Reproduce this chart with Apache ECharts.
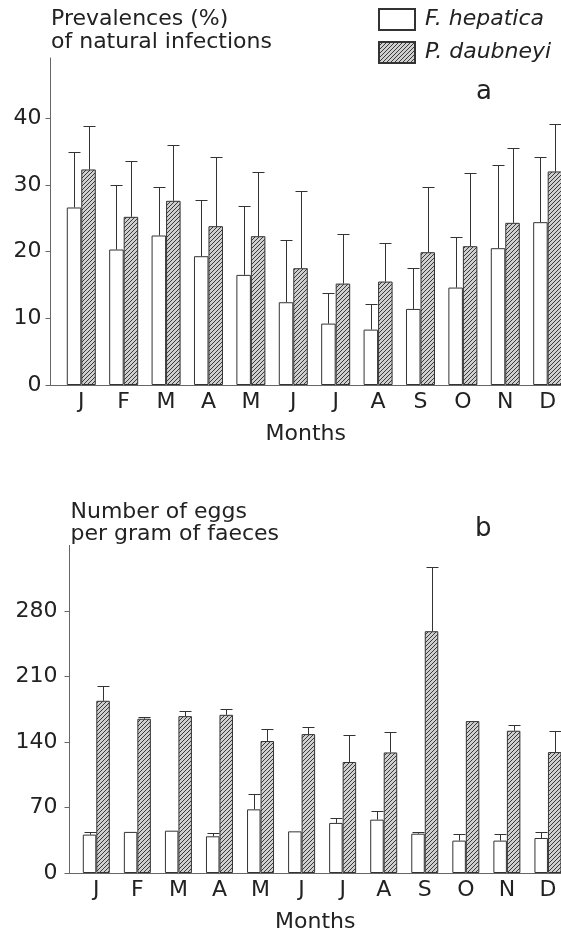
<!DOCTYPE html>
<html><head><meta charset="utf-8">
<script src="https://cdn.jsdelivr.net/npm/echarts@6/dist/echarts.min.js"></script>
<style>html,body{margin:0;padding:0;background:#fff}#c{width:561px;height:934px}</style>
</head><body><div id="c"></div>
<script>
// ---- data ----
const months = ['J','F','M','A','M','J','J','A','S','O','N','D'];
const prevTicks = [0, 10, 20, 30, 40];
const eggTicks = [0, 70, 140, 210, 280];

// (a) Prevalences (%) of natural infections
const prevHepatica   = [26.6, 20.3, 22.4, 19.3, 16.5, 12.4, 9.2, 8.3, 11.4, 14.6, 20.5, 24.4];
const prevHepaticaSD = [8.3, 9.6, 7.3, 8.4, 10.3, 9.4, 4.6, 3.8, 6.2, 7.6, 12.5, 9.7];
const prevDaubneyi   = [32.3, 25.2, 27.6, 23.8, 22.3, 17.5, 15.2, 15.5, 19.9, 20.8, 24.3, 32.0];
const prevDaubneyiSD = [6.5, 8.3, 8.4, 10.3, 9.6, 11.6, 7.4, 5.8, 9.7, 10.9, 11.2, 7.1];

// (b) Number of eggs per gram of faeces
const eggsHepatica   = [41, 43.9, 45.2, 39.2, 68, 44.5, 53.5, 57, 42, 34.6, 34.6, 37.4];
const eggsHepaticaSD = [2.9, 0, 0, 3.6, 16.4, 0, 5.3, 8.9, 1.8, 7.4, 7.4, 6.4];
const eggsDaubneyi   = [184, 164.8, 167.6, 169, 141, 148.4, 118.6, 128.8, 258.3, 162.3, 152, 129.2];
const eggsDaubneyiSD = [16.3, 1.5, 5.7, 6.1, 12.8, 7.8, 29.1, 21.8, 69, 0, 5.6, 22.8];

// ---- styles ----
const FONT = 'DejaVu Sans';
const INK = '#222';
const AXIS = '#666';

function hatchCanvas() {
  const c = document.createElement('canvas');
  c.width = 4; c.height = 4;
  const g = c.getContext('2d');
  g.fillStyle = '#cfcfcf'; g.fillRect(0, 0, 4, 4);
  g.strokeStyle = '#3a3a3a'; g.lineWidth = 1;
  g.beginPath();
  g.moveTo(0, 4); g.lineTo(4, 0);
  g.moveTo(-1, 1); g.lineTo(1, -1);
  g.moveTo(3, 5); g.lineTo(5, 3);
  g.stroke();
  return c;
}
const hatch = { image: hatchCanvas(), repeat: 'repeat' };

const whiteStyle = { color: '#fff', borderColor: '#333', borderWidth: 1 };
const hatchStyle = { color: hatch, borderColor: '#333', borderWidth: 1 };

function pairs(arr) { return arr.map((v, i) => [i, v]); }

function barSeries(name, xi, means, style, barW) {
  return {
    type: 'bar', name: name, xAxisIndex: xi, yAxisIndex: xi,
    data: pairs(means), barWidth: barW, barGap: '0%',
    itemStyle: style, silent: true, z: 2
  };
}

function errSeries(id, xi, means, sds, side, barW, capW) {
  return {
    type: 'custom', name: id, xAxisIndex: xi, yAxisIndex: xi, silent: true, z: 3,
    data: means.map((m, i) => [i, m, sds[i]]),
    encode: { x: 0, y: 1 },
    renderItem: function (params, api) {
      const i = api.value(0), m = api.value(1), s = api.value(2);
      if (!(s > 0)) return null;
      const p0 = api.coord([i, m]);
      const p1 = api.coord([i, m + s]);
      const x = Math.round(p0[0] + side * barW / 2) + 0.5;
      const yt = Math.round(p1[1]) + 0.5;
      return {
        type: 'group', children: [
          { type: 'line', shape: { x1: x, y1: p0[1], x2: x, y2: yt }, style: { stroke: '#333', lineWidth: 1 } },
          { type: 'line', shape: { x1: x - capW / 2, y1: yt, x2: x + capW / 2, y2: yt }, style: { stroke: '#333', lineWidth: 1 } }
        ]
      };
    }
  };
}

function xAxisCfg(gi, min, max) {
  return {
    type: 'value', gridIndex: gi, min: min, max: max,
    name: 'Months', nameLocation: 'middle', nameGap: 38,
    nameTextStyle: { fontSize: 22, color: INK, fontFamily: FONT },
    axisLine: { show: true, onZero: false, lineStyle: { color: AXIS, width: 1 } },
    axisTick: { show: false },
    splitLine: { show: false },
    axisLabel: {
      customValues: months.map((_, i) => i),
      formatter: v => months[Math.round(v)] || '',
      fontSize: 22, color: INK, fontFamily: FONT, margin: 6
    }
  };
}

function yAxisCfg(gi, max, ticks, margin) {
  return {
    type: 'value', gridIndex: gi, min: 0, max: max,
    axisLine: { show: true, onZero: false, lineStyle: { color: AXIS, width: 1 } },
    axisTick: { show: true, customValues: ticks, length: 5, lineStyle: { color: AXIS } },
    splitLine: { show: false },
    axisLabel: { customValues: ticks, fontSize: 22, color: INK, fontFamily: FONT, margin: margin }
  };
}

const BW_A = 14.5, BW_B = 13.5;

const option = {
  animation: false,
  backgroundColor: '#fff',
  textStyle: { fontFamily: FONT },
  title: [
    { text: 'Prevalences (%)\nof natural infections', left: 51, top: 8, padding: 0,
      textStyle: { fontSize: 22, lineHeight: 22.6, fontWeight: 'normal', color: INK, fontFamily: FONT } },
    { text: 'a', left: 476, top: 79, padding: 0,
      textStyle: { fontSize: 26, fontWeight: 'normal', color: INK, fontFamily: FONT } },
    { text: 'Number of eggs\nper gram of faeces', left: 70.5, top: 501, padding: 0,
      textStyle: { fontSize: 22, lineHeight: 22.4, fontWeight: 'normal', color: INK, fontFamily: FONT } },
    { text: 'b', left: 475, top: 516, padding: 0,
      textStyle: { fontSize: 26, fontWeight: 'normal', color: INK, fontFamily: FONT } }
  ],
  legend: {
    data: ['F. hepatica', 'P. daubneyi'],
    orient: 'vertical', left: 378, top: 8, padding: 0,
    itemWidth: 36, itemHeight: 21, itemGap: 10, selectedMode: false,
    icon: 'rect',
    textStyle: { fontSize: 22, fontStyle: 'italic', color: INK, fontFamily: FONT, padding: [0, 0, 0, 5] }
  },
  grid: [
    { left: 50.5, right: 0, top: 58, height: 327, containLabel: false },
    { left: 69.5, right: 0, top: 545.4, height: 328, containLabel: false }
  ],
  xAxis: [
    xAxisCfg(0, -0.726, 11.314),
    xAxisCfg(1, -0.653, 11.318)
  ],
  yAxis: [
    yAxisCfg(0, 49, prevTicks, 9),
    yAxisCfg(1, 350, eggTicks, 12)
  ],
  series: [
    barSeries('F. hepatica', 0, prevHepatica, whiteStyle, BW_A),
    barSeries('P. daubneyi', 0, prevDaubneyi, hatchStyle, BW_A),
    barSeries('F. hepatica', 1, eggsHepatica, whiteStyle, BW_B),
    barSeries('P. daubneyi', 1, eggsDaubneyi, hatchStyle, BW_B),
    errSeries('errA1', 0, prevHepatica, prevHepaticaSD, -1, BW_A, 12),
    errSeries('errA2', 0, prevDaubneyi, prevDaubneyiSD, 1, BW_A, 12),
    errSeries('errB1', 1, eggsHepatica, eggsHepaticaSD, -1, BW_B, 12),
    errSeries('errB2', 1, eggsDaubneyi, eggsDaubneyiSD, 1, BW_B, 12)
  ]
};

const chart = echarts.init(document.getElementById('c'), null, { renderer: 'canvas' });
chart.setOption(option);
</script>
</body></html>
